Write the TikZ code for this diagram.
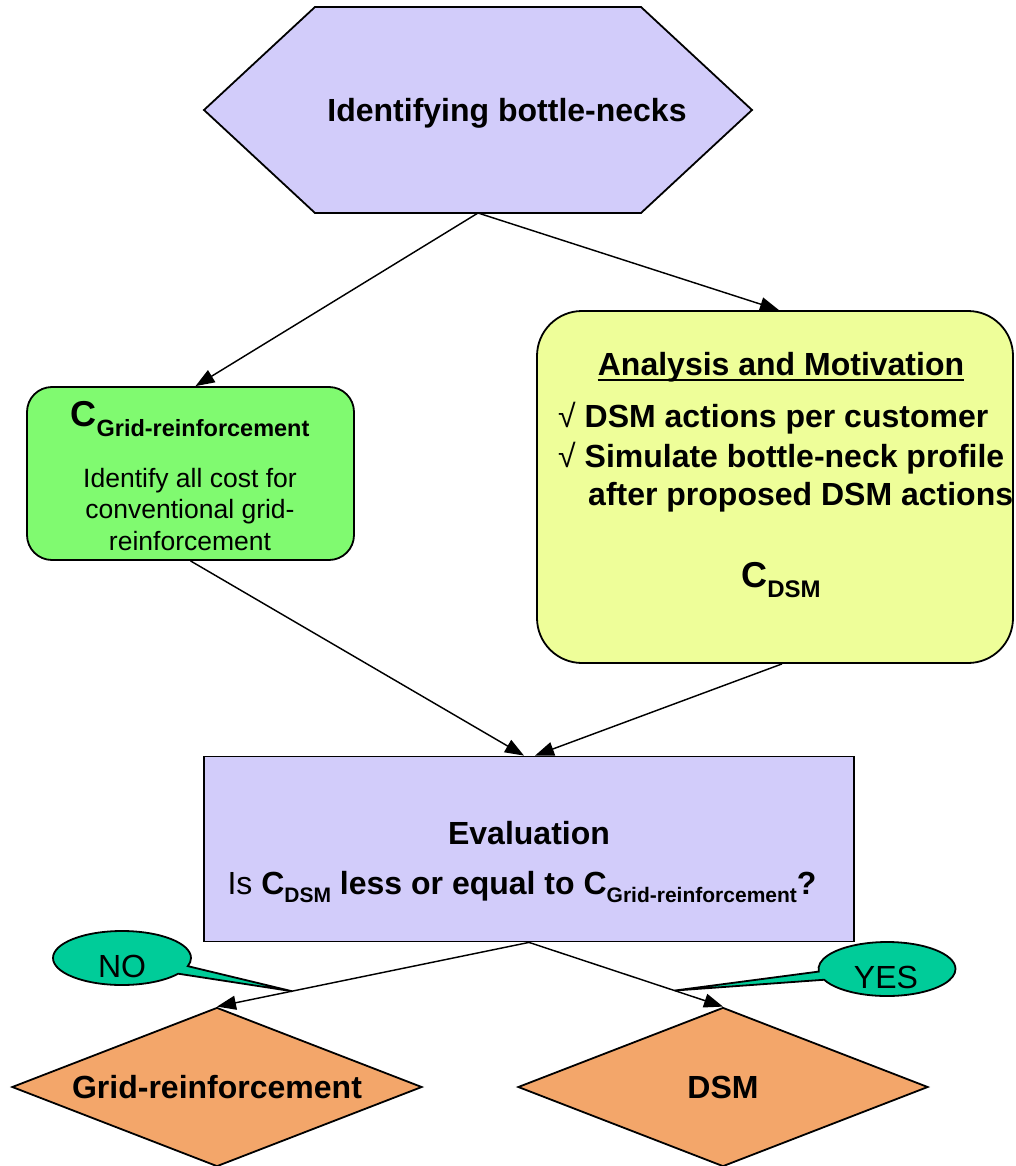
\documentclass[tikz,border=0pt]{standalone}
\usepackage{fontspec}
\setmainfont{Liberation Sans}
\usetikzlibrary{arrows.meta,shapes.geometric,shapes.callouts,calc}
\definecolor{lav}{RGB}{210,204,250}
\definecolor{gbox}{RGB}{128,250,112}
\definecolor{ybox}{RGB}{238,254,153}
\definecolor{orng}{RGB}{243,166,106}
\definecolor{callc}{RGB}{0,204,153}
\newcommand{\myfs}[1]{\fontsize{#1}{#1}\selectfont}
\newcommand{\Csub}[4]{{\myfs{#1}\bfseries C}\raisebox{-#3}{\myfs{#2}\bfseries #4}}
\begin{document}
\begin{tikzpicture}[x=1pt,y=-1pt,
  shp/.style={draw=black,line width=1.8pt},
  conn/.style={draw=black,line width=1.45pt,-{Triangle[length=19pt,width=14pt]}},
  txt/.style={inner sep=0pt,anchor=base}]
\useasboundingbox (0,0) rectangle (1015,1166);

% hexagon
\path[shp,fill=lav] (204,110) -- (315,7) -- (641,7) -- (752,110) -- (641,213) -- (315,213) -- cycle;
\coordinate (hexb) at (478,213);
\node[txt,font={\myfs{32}\bfseries}] (hextxt) at (507,122) {Identifying bottle-necks};

% boxes
\node[shp,fill=gbox,rounded corners=25pt,minimum width=327pt,minimum height=173pt,inner sep=0pt] (green) at (190.5,473.5) {};
\node[shp,fill=ybox,rounded corners=45pt,minimum width=476pt,minimum height=352pt,inner sep=0pt] (yellow) at (775,487) {};
\node[shp,fill=lav,minimum width=650pt,minimum height=185pt,inner sep=0pt] (eval) at (529,849) {};
\node[shp,fill=orng,diamond,aspect=2.58,minimum width=410pt,minimum height=159pt,inner sep=0pt,font={\myfs{32}\bfseries}] (grid) at (217,1087) {Grid-reinforcement};
\node[shp,fill=orng,diamond,aspect=2.58,minimum width=410pt,minimum height=159pt,inner sep=0pt,font={\myfs{32}\bfseries}] (dsm) at (723,1087) {DSM};

% callouts
\coordinate (notip) at ($(eval.south)!0.76!(grid.north)$);
\coordinate (yestip) at ($(eval.south)!0.75!(dsm.north)$);
\node[shp,fill=callc,ellipse callout,minimum width=138pt,minimum height=54pt,inner sep=0pt,callout pointer arc=18,callout absolute pointer={(notip)}] (no) at (122,958) {};
\node[shp,fill=callc,ellipse callout,minimum width=137pt,minimum height=54pt,inner sep=0pt,callout pointer arc=18,callout absolute pointer={(yestip)}] (yes) at (887,969) {};
\node[txt,font={\myfs{32}}] (notxt) at (122,977) {NO};
\node[txt,font={\myfs{32}}] (yestxt) at (886,988) {YES};

% green box text
\node[txt] (cgrid) at (190,426) {\Csub{36}{23.5}{10pt}{Grid-reinforcement}};
\node[txt,font={\myfs{26.5}}] (g1) at (190,487) {Identify all cost for};
\node[txt,font={\myfs{26.5}}] (g2) at (190,518) {conventional grid-};
\node[txt,font={\myfs{26.5}}] (g3) at (190,550) {reinforcement};

% yellow box text
\node[txt,font={\myfs{32}\bfseries}] (amtitle) at (781,375) {Analysis and Motivation};
\draw[line width=2.5pt] ([yshift=-5pt]amtitle.base west) -- ([yshift=-5pt]amtitle.base east);
\node[txt,anchor=base west,font={\myfs{32}\bfseries}] (l1) at (558,427) {{\mdseries √} DSM actions per customer};
\node[txt,anchor=base west,font={\myfs{32}\bfseries}] (l2) at (558,467) {{\mdseries √} Simulate bottle-neck profile};
\node[txt,anchor=base west,font={\myfs{32}\bfseries}] (l3) at (588,505) {after proposed DSM actions};
\node[txt] (cdsm) at (781,587) {\Csub{36}{24}{10pt}{DSM}};

% evaluation text
\node[txt,font={\myfs{32}\bfseries}] (evt) at (529,844) {Evaluation};
\node[txt,font={\myfs{32}}] (evq) at (522,894) {Is \Csub{32}{21}{8pt}{DSM}\textbf{ less or equal to }\Csub{32}{21}{8pt}{Grid-reinforcement}\textbf{?}};

% connectors
\draw[conn] (hexb) -- ([xshift=5pt]green.north);
\draw[conn] (hexb) -- ([xshift=4pt]yellow.north);
\draw[conn] (green.south) -- ([xshift=-5pt]eval.north);
\draw[conn] ([xshift=7pt]yellow.south) -- ([xshift=6pt]eval.north);
\draw[conn] (eval.south) -- (grid.north);
\draw[conn] (eval.south) -- (dsm.north);
\end{tikzpicture}
\end{document}
